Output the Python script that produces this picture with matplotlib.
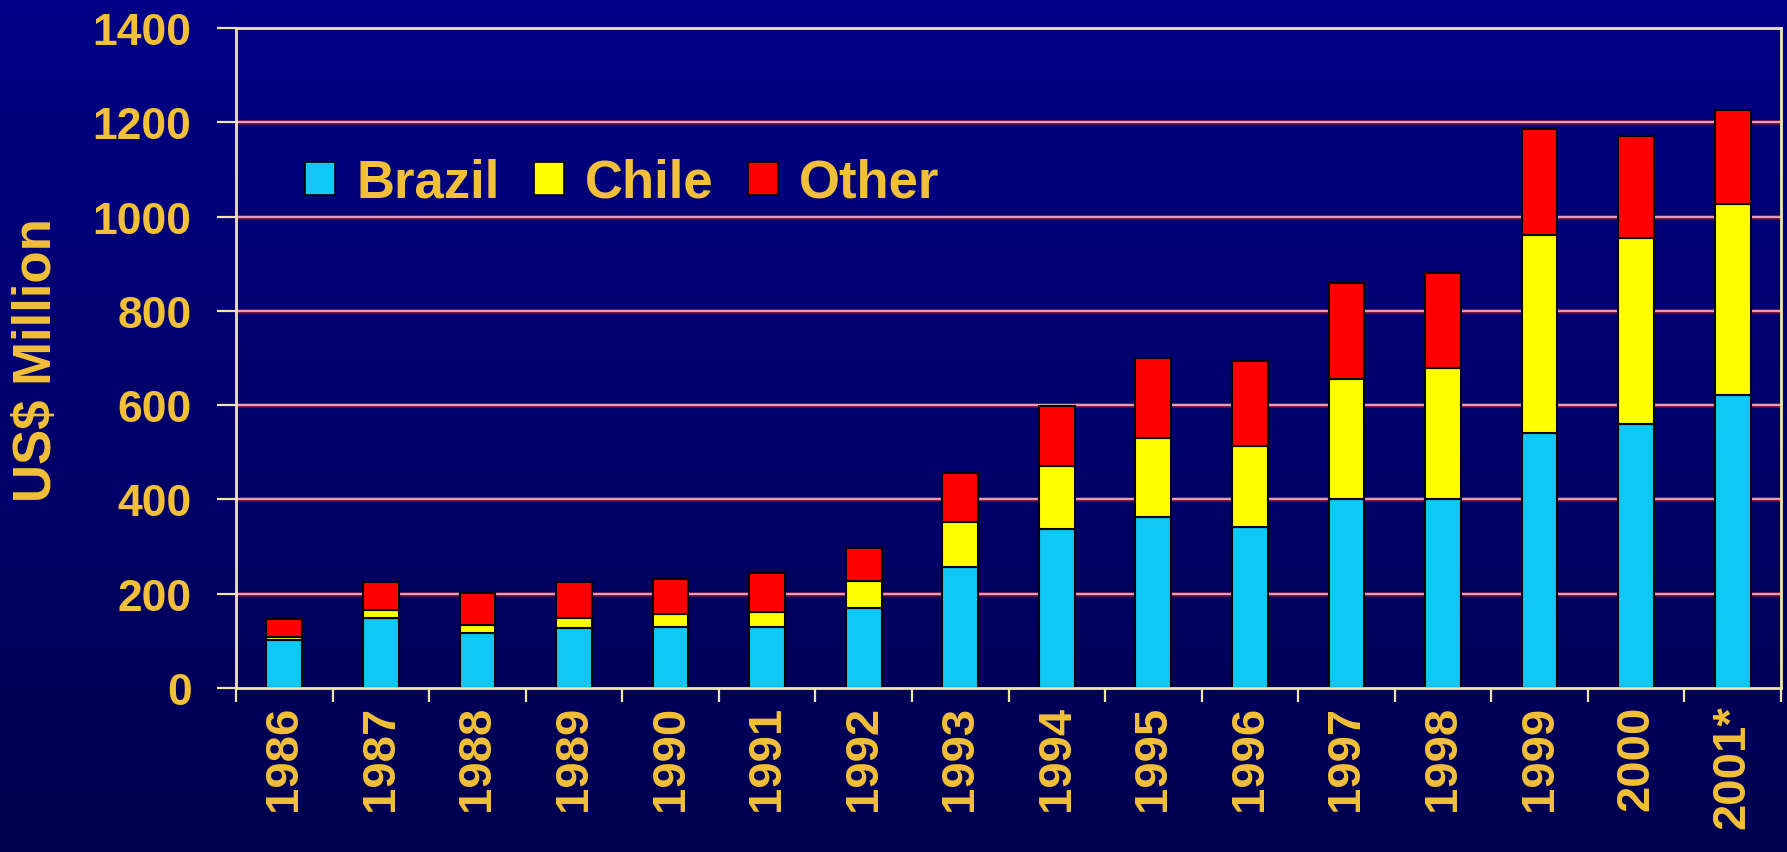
import numpy as np
import matplotlib
matplotlib.use("Agg")
import matplotlib.pyplot as plt
from matplotlib.patches import Patch
import matplotlib.patheffects as pe

# Data (US$ million)
years = ["1986", "1987", "1988", "1989", "1990", "1991", "1992", "1993",
         "1994", "1995", "1996", "1997", "1998", "1999", "2000", "2001*"]
brazil = [101, 149, 116, 128, 130, 130, 169, 256, 337, 363, 342, 400, 400, 540, 561, 621]
chile = [8, 16, 17, 20, 26, 32, 59, 97, 133, 167, 171, 255, 278, 420, 394, 405]
other = [38, 59, 69, 76, 76, 81, 68, 104, 128, 169, 180, 204, 202, 226, 216, 200]
series_names = ["Brazil", "Chile", "Other"]
yticks = [0, 200, 400, 600, 800, 1000, 1200, 1400]

C_BRAZIL = "#0fc8f5"
C_CHILE = "#ffff00"
C_OTHER = "#ff0000"
GOLD = "#f2c038"
CREAM = "#f0e6a8"
GRID = "#d9a3c0"

plt.rcParams["font.family"] = ["Liberation Sans", "DejaVu Sans"]
plt.rcParams["font.weight"] = "bold"

W, H = 1787, 853
fig = plt.figure(figsize=(W / 100, H / 100), dpi=100)

# Vertical navy gradient behind everything
bg = fig.add_axes([0, 0, 1, 1], zorder=-10)
top = np.array([2, 2, 134]) / 255
bot = np.array([0, 0, 80]) / 255
t = np.linspace(0, 1, 256)[:, None]
grad = (top[None, :] * (1 - t) + bot[None, :] * t)[:, None, :]
bg.imshow(grad, aspect="auto", extent=[0, 1, 0, 1])
bg.set_axis_off()

left, right = 236 / W, 1781 / W
bottom, topy = 1 - 689 / H, 1 - 29 / H
ax = fig.add_axes([left, bottom, right - left, topy - bottom])
ax.patch.set_alpha(0)

x = np.arange(len(years))
bw = 0.37
b1 = np.array(brazil)
b2 = np.array(chile)
b3 = np.array(other)
ax.bar(x, b1, bw, color=C_BRAZIL, edgecolor="black", linewidth=1.5, zorder=3)
ax.bar(x, b2, bw, bottom=b1, color=C_CHILE, edgecolor="black", linewidth=1.5, zorder=3)
ax.bar(x, b3, bw, bottom=b1 + b2, color=C_OTHER, edgecolor="black", linewidth=1.5, zorder=3)

# Horizontal grid lines
for v in yticks[1:-1]:
    ax.axhline(v, color=GRID, linewidth=1.6, zorder=1,
               path_effects=[pe.Stroke(linewidth=3.4, foreground="#6e0a3a"), pe.Normal()])

ax.set_xlim(-0.5, len(years) - 0.5)
ax.set_ylim(0, 1400)

for s in ax.spines.values():
    s.set_color(CREAM)
    s.set_linewidth(2)
    s.set_zorder(4)

ax.set_yticks(yticks)
ax.set_yticklabels([str(v) for v in yticks])
ax.tick_params(axis="y", colors=CREAM, length=14, width=1.6, pad=18,
               labelcolor=GOLD, labelsize=32)

ax.set_xticks(x)
ax.set_xticklabels(years, rotation=90)
ax.tick_params(axis="x", which="major", length=0, pad=12, labelcolor=GOLD, labelsize=34)
ax.set_xticks(np.arange(-0.5, len(years), 1.0), minor=True)
ax.tick_params(axis="x", which="minor", colors=CREAM, length=10, width=1.6)
for lab in ax.get_xticklabels() + ax.get_yticklabels():
    lab.set_fontweight("bold")

handles = [Patch(facecolor=C_BRAZIL, edgecolor="black", linewidth=1.2),
           Patch(facecolor=C_CHILE, edgecolor="black", linewidth=1.2),
           Patch(facecolor=C_OTHER, edgecolor="black", linewidth=1.2)]
leg = ax.legend(handles, series_names, loc="center left",
                bbox_to_anchor=((305 - 236) / (1781 - 236), (689 - 184) / (689 - 29)),
                ncol=3, frameon=False, borderpad=0, borderaxespad=0,
                handlelength=0.57, handleheight=0.57, handletextpad=0.4,
                columnspacing=0.65, prop={"size": 38, "weight": "bold"})
for txt in leg.get_texts():
    txt.set_color(GOLD)

fig.text(37 / W, 1 - 360 / H, "US$ Million", rotation=90, ha="center", va="center",
         color=GOLD, fontsize=38, fontweight="bold")

fig.savefig("out.png", dpi=100)
